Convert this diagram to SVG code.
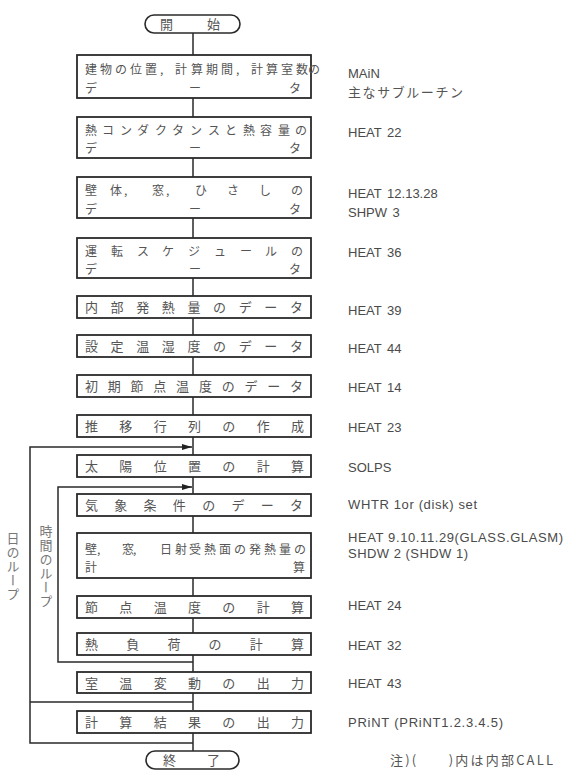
<svg xmlns="http://www.w3.org/2000/svg" width="574" height="770" viewBox="0 0 574 770">
<defs>
<marker id="arr" markerUnits="userSpaceOnUse" markerWidth="11" markerHeight="7" refX="10" refY="3.5" orient="auto">
<path d="M0,0.5 L10,3.5 L0,6.5 z" fill="#222"/>
</marker>
</defs>
<style>
.box{fill:#fff;stroke:#2a2a2a;stroke-width:1.8}
.term{fill:#fff;stroke:#2a2a2a;stroke-width:1.6}
.bt{font-family:"Noto Sans CJK JP","Noto Sans CJK SC",sans-serif;font-size:13px;fill:#555}
.b2{font-family:"Noto Sans CJK JP","Noto Sans CJK SC",sans-serif;font-size:12px;fill:#555}
.rt{font-family:"Liberation Sans","Noto Sans CJK JP",sans-serif;font-size:13px;fill:#4a4a4a}
.rj{font-family:"Noto Sans CJK JP",sans-serif;font-size:13px;fill:#555}
.lp{font-family:"Noto Sans CJK JP",sans-serif;font-size:13px;fill:#777;writing-mode:tb}
.ln{fill:none;stroke:#2a2a2a;stroke-width:1.5}
</style>
<rect width="574" height="770" fill="#fff"/>
<g id="connectors">
<path class="ln" d="M193,33V55 M193,98V117 M193,158V177 M193,218V238 M193,278V297 M193,317V335 M193,357V375 M193,397V415 M193,437V455 M193,477V495 M193,515V533 M193,578V597 M193,617V633 M193,655V672 M193,693V710 M193,733V751"/>
<path class="ln" d="M193,743H30V447H192" marker-end="url(#arr)"/>
<path class="ln" d="M193,702H30"/>
<path class="ln" d="M193,662H58V487H192" marker-end="url(#arr)"/>
</g>
<g id="start">
<rect class="term" x="145" y="15" width="95" height="18" rx="9"/>
<text class="bt" x="160 207" y="29">開始</text>
</g>
<g id="n1">
<rect class="box" x="77" y="55" width="234" height="43"/>
<text class="b2"><tspan x="85 100 115 130 145 160 175 191 206 221 236 251 266 281 296" y="74">建物の位置,計算期間,計算室数の</tspan><tspan x="85 189 289" y="93">データ</tspan></text>
</g>
<g id="n2">
<rect class="box" x="77" y="117" width="234" height="41"/>
<text class="b2"><tspan x="85 102 120 137 155 172 190 208 225 243 260 278 295" y="135">熱コンダクタンスと熱容量の</tspan><tspan x="85 189 289" y="153">データ</tspan></text>
</g>
<g id="n3">
<rect class="box" x="77" y="177" width="234" height="41"/>
<text class="b2"><tspan x="85 110 124 152 166 195 227 259 291" y="195">壁体,窓,ひさしの</tspan><tspan x="85 189 289" y="214">データ</tspan></text>
</g>
<g id="n4">
<rect class="box" x="77" y="238" width="234" height="40"/>
<text class="b2"><tspan x="85 111 137 162 188 214 240 265 291" y="256">運転スケジュールの</tspan><tspan x="85 189 289" y="274">データ</tspan></text>
</g>
<g id="n5">
<rect class="box" x="77" y="296" width="234" height="22"/>
<text class="bt" x="85" y="312" textLength="218" lengthAdjust="spacing">内部発熱量のデータ</text>
</g>
<g id="n6">
<rect class="box" x="77" y="335" width="234" height="22"/>
<text class="bt" x="85" y="351" textLength="218" lengthAdjust="spacing">設定温湿度のデータ</text>
</g>
<g id="n7">
<rect class="box" x="77" y="375" width="234" height="22"/>
<text class="bt" x="85" y="391" textLength="218" lengthAdjust="spacing">初期節点温度のデータ</text>
</g>
<g id="n8">
<rect class="box" x="77" y="415" width="234" height="22"/>
<text class="bt" x="85" y="431" textLength="219" lengthAdjust="spacing">推移行列の作成</text>
</g>
<g id="n9">
<rect class="box" x="77" y="455" width="234" height="22"/>
<text class="bt" x="85" y="471" textLength="219" lengthAdjust="spacing">太陽位置の計算</text>
</g>
<g id="n10">
<rect class="box" x="77" y="494" width="234" height="22"/>
<text class="bt" x="85" y="510" textLength="218" lengthAdjust="spacing">気象条件のデータ</text>
</g>
<g id="n11">
<rect class="box" x="77" y="533" width="234" height="45"/>
<text class="b2"><tspan x="85 97 122 133" y="554">壁,窓,</tspan><tspan x="160 175 189 204 219 234 249 264 279 294" y="554">日射受熱面の発熱量の</tspan><tspan x="85 293" y="572">計算</tspan></text>
</g>
<g id="n12">
<rect class="box" x="77" y="596" width="234" height="22"/>
<text class="bt" x="85" y="612" textLength="219" lengthAdjust="spacing">節点温度の計算</text>
</g>
<g id="n13">
<rect class="box" x="77" y="633" width="234" height="22"/>
<text class="bt" x="85" y="649" textLength="219" lengthAdjust="spacing">熱負荷の計算</text>
</g>
<g id="n14">
<rect class="box" x="77" y="672" width="234" height="21"/>
<text class="bt" x="85" y="688" textLength="219" lengthAdjust="spacing">室温変動の出力</text>
</g>
<g id="n15">
<rect class="box" x="77" y="711" width="234" height="22"/>
<text class="bt" x="85" y="727" textLength="219" lengthAdjust="spacing">計算結果の出力</text>
</g>
<g id="end">
<rect class="term" x="146" y="751" width="93" height="18" rx="9"/>
<text class="bt" x="163 207" y="765">終了</text>
</g>
<g id="loop-labels">
<text class="lp" x="13" y="532" letter-spacing="1">日のループ</text>
<text class="lp" x="46" y="525" letter-spacing="1">時間のループ</text>
</g>
<g id="notes">
<text class="rt" x="348" y="78">MAiN</text>
<text class="rj" x="348" y="97" textLength="115" lengthAdjust="spacing">主なサブルーチン</text>
<text class="rt" x="348" y="137" word-spacing="2">HEAT 22</text>
<text class="rt" x="348" y="198" word-spacing="2">HEAT 12.13.28</text>
<text class="rt" x="348" y="217" word-spacing="2">SHPW 3</text>
<text class="rt" x="348" y="257" word-spacing="2">HEAT 36</text>
<text class="rt" x="348" y="315" word-spacing="2">HEAT 39</text>
<text class="rt" x="348" y="353" word-spacing="2">HEAT 44</text>
<text class="rt" x="348" y="392" word-spacing="2">HEAT 14</text>
<text class="rt" x="348" y="432" word-spacing="2">HEAT 23</text>
<text class="rt" x="348" y="472">SOLPS</text>
<text class="rt" x="348" y="509" textLength="129" lengthAdjust="spacing">WHTR 1or (disk) set</text>
<text class="rt" x="348" y="542" textLength="215" lengthAdjust="spacing">HEAT 9.10.11.29(GLASS.GLASM)</text>
<text class="rt" x="348" y="558" textLength="120" lengthAdjust="spacing">SHDW 2 (SHDW 1)</text>
<text class="rt" x="348" y="610" word-spacing="2">HEAT 24</text>
<text class="rt" x="348" y="650" word-spacing="2">HEAT 32</text>
<text class="rt" x="348" y="688" word-spacing="2">HEAT 43</text>
<text class="rt" x="348" y="727" textLength="155" lengthAdjust="spacing">PRiNT (PRiNT1.2.3.4.5)</text>
<text class="rj" x="390" y="765" textLength="163" lengthAdjust="spacing">注)(　　)内は内部CALL</text>
</g>
</svg>
